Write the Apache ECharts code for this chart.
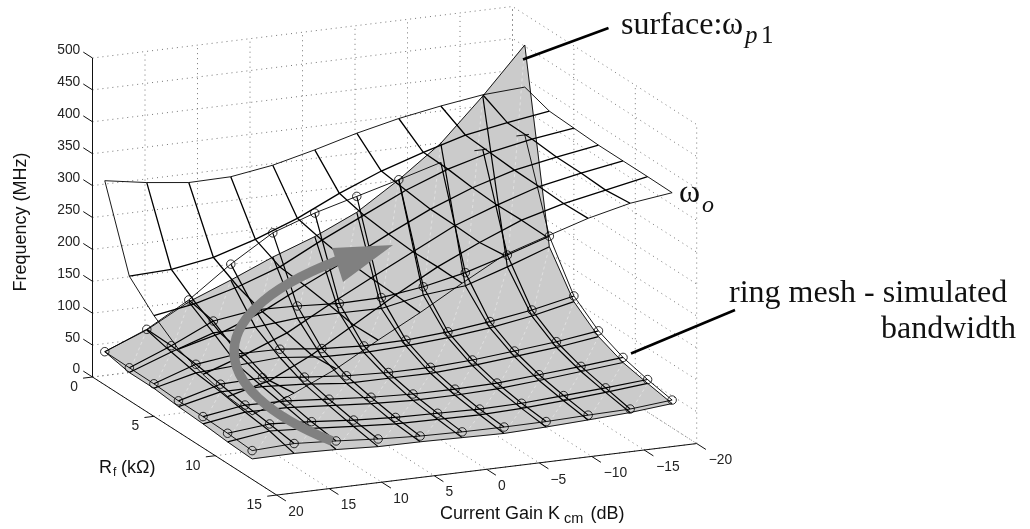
<!DOCTYPE html>
<html><head><meta charset="utf-8">
<style>html,body{margin:0;padding:0;background:#fff}#c{width:1030px;height:529px}</style>
<script src="https://cdn.jsdelivr.net/npm/echarts@6/dist/echarts.min.js"></script>
</head><body><div id="c"></div>
<script>
// ---- data -------------------------------------------------------------
const gainDb = [20,16,12,8,4,0,-4,-8,-12,-16,-20];
const rfKohm = [1,3,5,7,9,11,13];
const ringRf1  = [52,79,117,165,206,229,247,265,284,296,311];
const ringRf3  = [51.5,78,108.6,118,116,112,113,122,136,155.5,177];
const ringRf5  = [51,73.5,82,81,74,70,71,76,84,94,108];
const ringRf7  = [49,67,69,62,56,53,53,56.5,62.5,69,78];
const ringRf9  = [49,59,57.5,52,47,44,43.5,45,50,55,61];
const ringRf11 = [47.5,54,49.5,44,40,38.5,37,38,42,46,51];
const ringRf13 = [45,48,44,39,35.5,34,33.5,34,36,37.5,43.5];
const p1Rf1  = [52,78,114,140,168,192,222,265,314,380,452];
const p1Rf3  = [44,68,90,91,97,97,96,109,115.5,137,160.5];
const p1Rf5  = [44,60,64,68,61,59.5,62,67,74,84.6,99];
const p1Rf7  = [40,55,55,51,44,44,43.7,47.6,53.6,60,69];
const p1Rf9  = [37.6,48,47,42,37,34,34,36,41,47,53];
const p1Rf11 = [34,43,39,34,30,29,28,30,34,39,45];
const p1Rf13 = [32,32.5,30.5,27,26.5,25,23.5,25.5,28.5,32,38];
const w0Rf1  = [320,309,301,302,312,328,346,361,372.5,382,386];
const w0Rf3  = [195,197.5,208.5,228.6,253.4,284.5,311.4,332.7,351.7,363,373];
const w0Rf5  = [158,169,187,210,244,275,306,331,349,362,371];
const w0Rf7  = [130,147,172.6,206,237,270,301,326.5,346,358.5,369];
const w0Rf9  = [115,138,164,200,234,267,300,324,345,358,369];
const w0Rf11 = [105,122,154,193,232,268,298,325,343,356,369];
const w0Rf13 = [101,127,157,194,229,267,303,324,344.5,360,368.5];
const freqTicks = [0,50,100,150,200,250,300,350,400,450,500];
const gainTicks = [20,15,10,5,0,-5,-10,-15,-20];
const rfTicks = [0,5,10,15];
// ---- oblique projection of (gain, Rf, frequency) ----------------------
const P = (k,r,z)=>[92.5+(20-k)*10.5+r*12.28, 377-(20-k)*1.2875+r*7.87-z*0.638];
const ring=[ringRf1,ringRf3,ringRf5,ringRf7,ringRf9,ringRf11,ringRf13];
const p1=[p1Rf1,p1Rf3,p1Rf5,p1Rf7,p1Rf9,p1Rf11,p1Rf13];
const w0=[w0Rf1,w0Rf3,w0Rf5,w0Rf7,w0Rf9,w0Rf11,w0Rf13];
const series=[];
const line=(pts,o)=>series.push({type:'line',data:pts,symbol:'none',silent:true,animation:false,z:o.z,
  lineStyle:{color:o.color||'#000',width:o.width||1,type:o.type||'solid',cap:'butt',join:'round'}});
const dots={color:'#666',width:0.9,type:[1,4],z:1};
const axis={color:'#111',width:1,z:2};
// walls + floor grid
const kMax=gainTicks[0],kMin=gainTicks[gainTicks.length-1],rMax=rfTicks[rfTicks.length-1],zMax=freqTicks[freqTicks.length-1];
freqTicks.forEach(z=>{line([P(kMax,0,z),P(kMin,0,z),P(kMin,rMax,z)],dots);
  line([P(kMax,0,z),P(kMax,-0.75,z)],axis);});
gainTicks.forEach(k=>{line([P(k,0,0),P(k,0,zMax)],dots);line([P(k,0,0),P(k,rMax,0)],dots);
  line([P(k,rMax,0),P(k,rMax+0.75,0)],axis);});
rfTicks.forEach(r=>{line([P(kMin,r,0),P(kMin,r,zMax)],dots);line([P(kMax,r,0),P(kMin,r,0)],dots);
  line([P(kMax,r,0),P(kMax+0.9,r,0)],axis);});
line([P(kMax,0,0),P(kMax,0,zMax)],axis);
line([P(kMax,0,0),P(kMax,rMax,0)],axis);
line([P(kMax,rMax,0),P(kMin,rMax,0)],axis);
// shaded surface
const cells=[];
for(let j=0;j<6;j++)for(let i=0;i<10;i++)cells.push([i,j]);
series.push({type:'custom',silent:true,animation:false,z:3,data:cells,encode:{x:0,y:1},
 renderItem:(p,api)=>{const i=api.value(0),j=api.value(1);
  const q=[[i,j],[i+1,j],[i+1,j+1],[i,j+1]].map(([a,b])=>api.coord(P(gainDb[a],rfKohm[b],p1[b][a])));
  return {type:'polygon',shape:{points:q},style:{fill:'#cbcbcb',stroke:'#cbcbcb',lineWidth:0.6}};}});
cells.forEach(([i,j])=>line([P(gainDb[i],rfKohm[j+1],p1[j+1][i]),P(gainDb[i+1],rfKohm[j],p1[j][i+1])],{color:'#e4e4e4',width:0.8,type:[3,3],z:4}));
// meshes
const mesh=(m,z,edge,inner,stopFirst)=>{
 m.forEach((row,j)=>{let pts=row.map((v,i)=>P(gainDb[i],rfKohm[j],v));
  if(j===0&&stopFirst)pts=pts.slice(0,stopFirst);
  line(pts,{z,width:(j===0||j===6)?edge:inner});});
 gainDb.forEach((k,i)=>line(rfKohm.map((r,j)=>P(k,r,m[j][i])),{z,width:(i===0||i===10)?edge:inner}));
};
mesh(p1,5,0.9,1.2);
mesh(ring,6,0.9,1.2,9);
[-16,-20].forEach(k=>{const v=ringRf1[gainDb.indexOf(k)];line([P(k+0.8,1,v),P(k-0.4,1,v)],{z:6,width:0.9});});
mesh(w0,7,0.9,1.3);
const rings=[];
ring.forEach((row,j)=>row.forEach((v,i)=>{if(!(j===0&&i>=8))rings.push(P(gainDb[i],rfKohm[j],v));}));
series.push({type:'scatter',data:rings,symbol:'circle',symbolSize:8.5,silent:true,animation:false,z:8,
  itemStyle:{color:'transparent',borderColor:'#000',borderWidth:1}});
// tick labels
const labels=[];
const fmt=v=>String(v).replace('-','\u2212');
freqTicks.forEach(z=>{const a=P(kMax,-0.75,z);labels.push([a[0]-3,a[1]-1.5,fmt(z),'right']);});
rfTicks.forEach(r=>{const a=P(kMax+0.9,r,0),s=fmt(r);labels.push([a[0]+(s.length>1?-13:-9),a[1]+9,s,'center']);});
gainTicks.forEach(k=>{const a=P(k,rMax+0.75,0),s=fmt(k);const dx=s.length===1?6:(s.length===2?10:14.5);labels.push([a[0]+dx,a[1]+11,s,'center']);});
series.push({type:'custom',silent:true,animation:false,z:9,data:labels.map((l,i)=>[l[0],l[1],i]),encode:{x:0,y:1},
 renderItem:(p,api)=>{const l=labels[api.value(2)],c=api.coord([l[0],l[1]]);
  return {type:'text',x:c[0],y:c[1],style:{text:l[2],font:'13.8px "Liberation Sans"',fill:'#222',align:l[3],verticalAlign:'middle'}};}});
// annotations
const T=(x,y,text,size,fam,italic)=>({type:'text',z:100,x,y,silent:true,style:{text,font:`${italic?'italic ':''}${size}px "${fam}"`,fill:'#111',align:'left',verticalAlign:'bottom'}});
const S='Liberation Serif',A='Liberation Sans';
const B=(x,base,text,size,fam,italic)=>T(x,base+size*0.216,text,size,fam,italic);
const graphic=[
 {type:'line',z:100,silent:true,shape:{x1:523,y1:59.5,x2:608.5,y2:28},style:{stroke:'#000',lineWidth:2.6}},
 {type:'line',z:100,silent:true,shape:{x1:631,y1:353.5,x2:735,y2:310},style:{stroke:'#000',lineWidth:2.6}},
 {type:'bezierCurve',z:100,silent:true,shape:{x1:332,y1:441,cpx1:202,cpy1:389,cpx2:195,cpy2:311,x2:350,y2:256},style:{stroke:'#808080',lineWidth:9.5,fill:null}},
 {type:'polygon',z:100,silent:true,shape:{points:[[332,248],[393,245],[343,282]]},style:{fill:'#808080'}},
 B(621,35,'surface:',32,S),B(722,35,'\u03c9',32,S),B(745,44,'p',25,S,true),B(761,44,'1',25,S),
 B(679,203,'\u03c9',32,S),B(702,212.5,'o',24,S,true),
 B(729,303,'ring mesh - simulated',32,S),B(881,339,'bandwidth',32,S),
 B(440,519.3,'Current Gain K',18,A),B(564,523,'cm',14.5,A),B(590.5,519.3,'(dB)',18,A),
 B(99,472.7,'R',18,A),B(113,476.5,'f',12,A),B(121,472.7,'(k\u03a9)',18,A),
 {type:'text',z:100,silent:true,x:21,y:222,rotation:Math.PI/2,style:{text:'Frequency (MHz)',font:`18px "${A}"`,fill:'#111',align:'center',verticalAlign:'middle'}}
];
const chart=echarts.init(document.getElementById('c'),null,{renderer:'canvas'});
chart.setOption({animation:false,backgroundColor:'#fff',
 grid:{left:0,right:0,top:0,bottom:0},
 xAxis:{type:'value',min:0,max:1030,show:false},
 yAxis:{type:'value',min:0,max:529,inverse:true,show:false},
 tooltip:{show:false},legend:{show:false},
 series,graphic:{elements:graphic}});
</script></body></html>
